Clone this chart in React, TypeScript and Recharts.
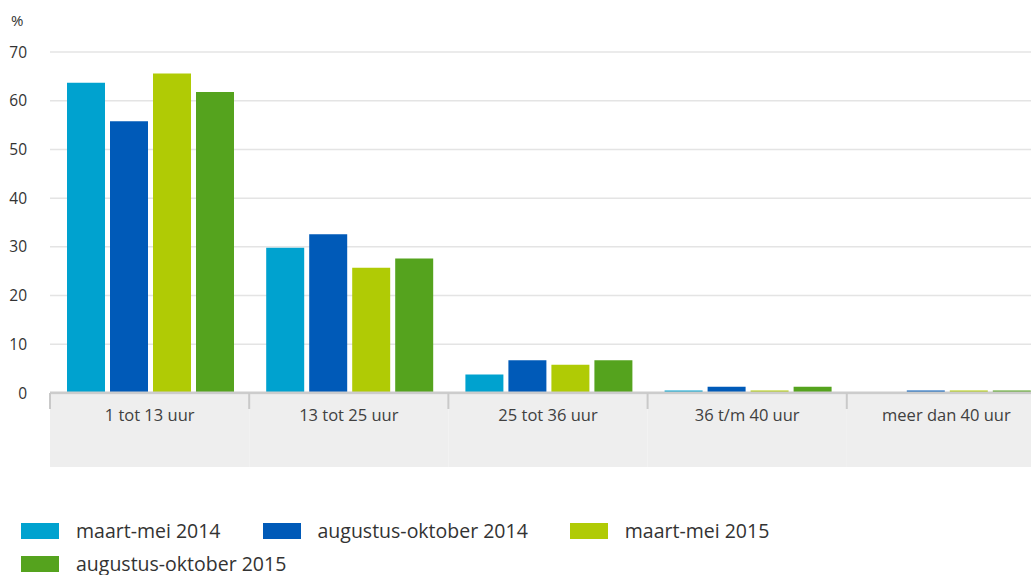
import React from 'react';
import { BarChart, Bar, XAxis, YAxis, CartesianGrid } from 'recharts';

const categories = ['1 tot 13 uur', '13 tot 25 uur', '25 tot 36 uur', '36 t/m 40 uur', 'meer dan 40 uur'];
const maartMei2014 = [63.7, 29.8, 3.8, 0.5, 0];
const augOkt2014 = [55.8, 32.6, 6.7, 1.3, 0.5];
const maartMei2015 = [65.6, 25.7, 5.8, 0.5, 0.5];
const augOkt2015 = [61.8, 27.6, 6.7, 1.3, 0.5];
const yTicks = [0, 10, 20, 30, 40, 50, 60, 70];

const series = [
  { key: 'm14', name: 'maart-mei 2014', color: '#00a2cf', values: maartMei2014 },
  { key: 'a14', name: 'augustus-oktober 2014', color: '#005ab8', values: augOkt2014 },
  { key: 'm15', name: 'maart-mei 2015', color: '#b0cb05', values: maartMei2015 },
  { key: 'a15', name: 'augustus-oktober 2015', color: '#55a31e', values: augOkt2015 },
];

const data = categories.map((cat, i) => {
  const row: Record<string, string | number> = { cat };
  series.forEach((s) => {
    row[s.key] = s.values[i];
  });
  return row;
});

const FONT = '"Open Sans", "Noto Sans", sans-serif';
const CHART_W = 1050;
const CHART_H = 467;
const MARGIN = { top: 52, right: 4, left: 0, bottom: 0 };
const Y_W = 50;
const X_H = 74;
const BAND = (CHART_W - MARGIN.left - MARGIN.right - Y_W) / categories.length;

// gray band under the axis, with short dividers between categories
const CategoryTick = (props: any) => {
  const { x, y, payload } = props;
  const half = BAND / 2;
  return (
    <g>
      <rect x={x - half} y={y + 1.5} width={BAND} height={X_H} fill="#eeeeee" />
      <line x1={x - half} x2={x - half} y1={y} y2={y + 16} stroke="#c9c9c9" strokeWidth={2} />
      <text
        x={x}
        y={y + 24}
        textAnchor="middle"
        dominantBaseline="middle"
        fill="#404040"
        fontSize={16.5}
        fontFamily={FONT}
      >
        {payload.value}
      </text>
    </g>
  );
};

export default function App() {
  return (
    <div
      style={{
        position: 'absolute',
        left: 0,
        top: 0,
        width: 1031,
        height: 575,
        overflow: 'hidden',
        background: '#fff',
        fontFamily: FONT,
      }}
    >
      <div style={{ position: 'absolute', left: 11, top: 10, fontSize: 15, color: '#333' }}>%</div>
      <BarChart
        width={CHART_W}
        height={CHART_H}
        data={data}
        margin={MARGIN}
        barCategoryGap={17}
        barGap={5}
      >
        <CartesianGrid vertical={false} stroke="#e4e4e4" strokeWidth={1.5} />
        <XAxis
          dataKey="cat"
          height={X_H}
          interval={0}
          tickLine={false}
          tickSize={0}
          tickMargin={0}
          axisLine={{ stroke: '#cccccc', strokeWidth: 3 }}
          tick={<CategoryTick />}
        />
        <YAxis
          width={Y_W}
          domain={[0, 70]}
          ticks={yTicks}
          axisLine={false}
          tickLine={false}
          tickSize={0}
          tickMargin={23}
          tick={{ fill: '#333', fontSize: 15.5, fontFamily: FONT }}
        />
        {series.map((s) => (
          <Bar key={s.key} dataKey={s.key} name={s.name} fill={s.color} isAnimationActive={false} />
        ))}
      </BarChart>
      <div
        style={{
          position: 'absolute',
          left: 21,
          top: 514,
          width: 1000,
          display: 'flex',
          flexWrap: 'wrap',
          fontSize: 19.5,
          color: '#333',
        }}
      >
        {series.map((s) => (
          <div key={s.key} style={{ display: 'flex', alignItems: 'center', height: 33, marginRight: 42 }}>
            <span style={{ display: 'inline-block', width: 38, height: 16, background: s.color, marginRight: 17 }} />
            <span style={{ whiteSpace: 'nowrap', lineHeight: '24px' }}>{s.name}</span>
          </div>
        ))}
      </div>
    </div>
  );
}
